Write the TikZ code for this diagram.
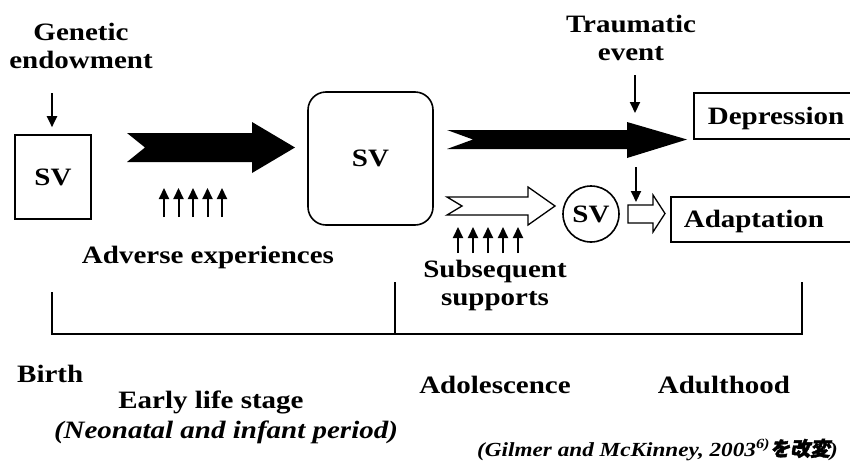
\documentclass[tikz,border=0pt]{standalone}
\usepackage{fontspec}
\setmainfont{Liberation Serif}[FakeStretch=1.16]
\newfontfamily\cjk{Noto Sans CJK JP}[FakeSlant=0.2,FakeBold=2]
\usetikzlibrary{arrows.meta,shapes.geometric}
\begin{document}
\begin{tikzpicture}[x=1pt,y=-1pt,
  lbl/.style={font=\fontsize{25}{28}\selectfont\bfseries, inner sep=0pt},
  box/.style={draw, line width=1.6pt},
  dn/.style={line width=2pt, -{Triangle[length=11pt,width=10pt]}},
  uparr/.style={line width=2pt, -{Triangle[length=11pt,width=10pt]}},
  blk/.style={fill=black},
  wht/.style={draw, line width=1.3pt, fill=white, line join=miter},
  brk/.style={line width=1.6pt}]
\clip (0,0) rectangle (850,466);

% top labels
\node[lbl, align=center, anchor=north] (gen) at (81,23) {Genetic\\endowment};
\node[lbl, align=center, anchor=north] (tra) at (631,15) {Traumatic\\event};

% boxes
\node[box, lbl, minimum width=76pt, minimum height=84pt] (sv1) at (53,177) {SV};
\node[box, lbl, rounded corners=18pt, minimum width=125pt, minimum height=133pt] (sv2) at (370.5,158.5) {SV};
\node[box, lbl, circle, minimum size=56pt] (sv3) at (591,214) {SV};
\node[box, lbl, anchor=north west, minimum height=46pt, text width=140pt, inner xsep=14pt, align=left, text depth=0pt] (dep) at (693,92) {Depression};
\node[box, lbl, anchor=north west, minimum height=45pt, text width=160pt, inner xsep=13pt, align=left, text depth=0pt] (ada) at (670,196) {Adaptation};

% down arrows
\coordinate (g1) at (52,93);
\draw[dn, shorten >=7pt] (g1) -- (g1 |- sv1.north);
\coordinate (t1) at (635,75);
\coordinate (t2) at (635,113);
\draw[dn] (t1) -- (t2);
\coordinate (t3) at (636,167);
\coordinate (t4) at (636,202);
\draw[dn] (t3) -- (t4);

% block arrows
\fill[blk] (127,133) -- (252,133) -- (252,122) -- (295,147.5) -- (252,173) -- (252,162) -- (127,162) -- (145,147.5) -- cycle;
\fill[blk] (447,130) -- (627,130) -- (627,122) -- (687,139.5) -- (627,158) -- (627,149) -- (447,149) -- (473,139.5) -- cycle;
\draw[wht] (447,197) -- (528,197) -- (528,187) -- (555,206) -- (528,225) -- (528,215) -- (447,215) -- (462,206) -- cycle;
\draw[wht] (628,205) -- (653,205) -- (653,195) -- (665,213.5) -- (653,232) -- (653,223) -- (628,223) -- cycle;

% small up arrows
\foreach \i in {0,...,4} \draw[uparr] (164+14.5*\i,217) -- (164+14.5*\i,188);
\foreach \i in {0,...,4} \draw[uparr] (458+15*\i,253) -- (458+15*\i,227);

% middle labels
\node[lbl, anchor=base] (adv) at (208,263) {Adverse experiences};
\node[lbl, align=center, anchor=north] (sub) at (495,260) {Subsequent\\supports};

% bracket
\draw[brk] (52,292) -- (52,334) -- (802,334) -- (802,282);
\draw[brk] (395,282) -- (395,334);

% bottom labels
\node[lbl, anchor=base west] (birth) at (17,382) {Birth};
\node[lbl, anchor=base] (early) at (211,408) {Early life stage};
\node[lbl, anchor=base, font=\fontsize{25}{28}\selectfont\bfseries\itshape] (neo) at (226,438) {(Neonatal and infant period)};
\node[lbl, anchor=base] (adol) at (495,393) {Adolescence};
\node[lbl, anchor=base] (adul) at (724,393) {Adulthood};
\node[anchor=base east, inner sep=0pt, font=\fontsize{20}{24}\selectfont\bfseries\itshape] (cite) at (838,456) {(Gilmer and McKinney, 2003\textsuperscript{6)}{\cjk を改変})};
\end{tikzpicture}
\end{document}
